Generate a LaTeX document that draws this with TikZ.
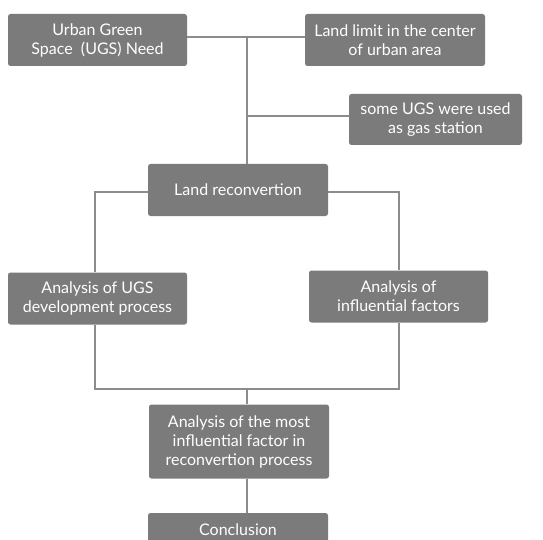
\documentclass[tikz,border=0pt]{standalone}
\usepackage{fontspec}
\setmainfont{Lato}
\begin{document}
\begin{tikzpicture}[x=1pt,y=-1pt,
  box/.style={fill=boxgray, draw=none, rounded corners=2.5pt, text=white,
    align=center, font=\fontsize{16}{19}\selectfont, inner sep=0pt,
    minimum width=180pt, minimum height=52pt},
  conn/.style={draw=linegray, line width=1.5pt}]
\definecolor{boxgray}{HTML}{7B7B7B}
\definecolor{linegray}{HTML}{8C8C8C}
\useasboundingbox[fill=white] (0,0) rectangle (543,540);
\node[box, minimum width=179pt] (ugs) at (97.5,40) {Urban Green\\Space\ \ (UGS) Need};
\node[box] (limit) at (395,40) {Land limit in the center\\of urban area};
\node[box, minimum width=173pt, minimum height=51pt] (gas) at (435.5,119.5) {some UGS were used\\as gas station};
\node[box] (recon) at (238,190) {Land reconvertion};
\node[box, minimum width=179pt] (dev) at (97.5,298.5) {Analysis of UGS\\development process};
\node[box, minimum width=179pt] (fact) at (398.5,296.5) {Analysis of\\influential factors};
\node[box, minimum height=74pt] (most) at (239,441.5) {Analysis of the most\\influential factor in\\reconvertion process};
\node[box, minimum height=34pt] (concl) at (238,530) {Conclusion};
\coordinate (j1) at (247,37);
\coordinate (j2) at (247,116);
\coordinate (j3) at (247,389);
\draw[conn] (ugs.east |- j1) -- (limit.west |- j1);
\draw[conn] (j1) -- (j1 |- recon.north);
\draw[conn] (j2) -- (j2 -| gas.west);
\draw[conn] (recon.west |- 0,192) -| (95,0 |- dev.north);
\draw[conn] (recon.east |- 0,192) -| (399,0 |- fact.north);
\draw[conn] (95,0 |- dev.south) |- (j3) -| (399,0 |- fact.south);
\draw[conn] (j3) -- (j3 |- most.north);
\draw[conn] (j3 |- most.south) -- (j3 |- concl.north);
\end{tikzpicture}
\end{document}
